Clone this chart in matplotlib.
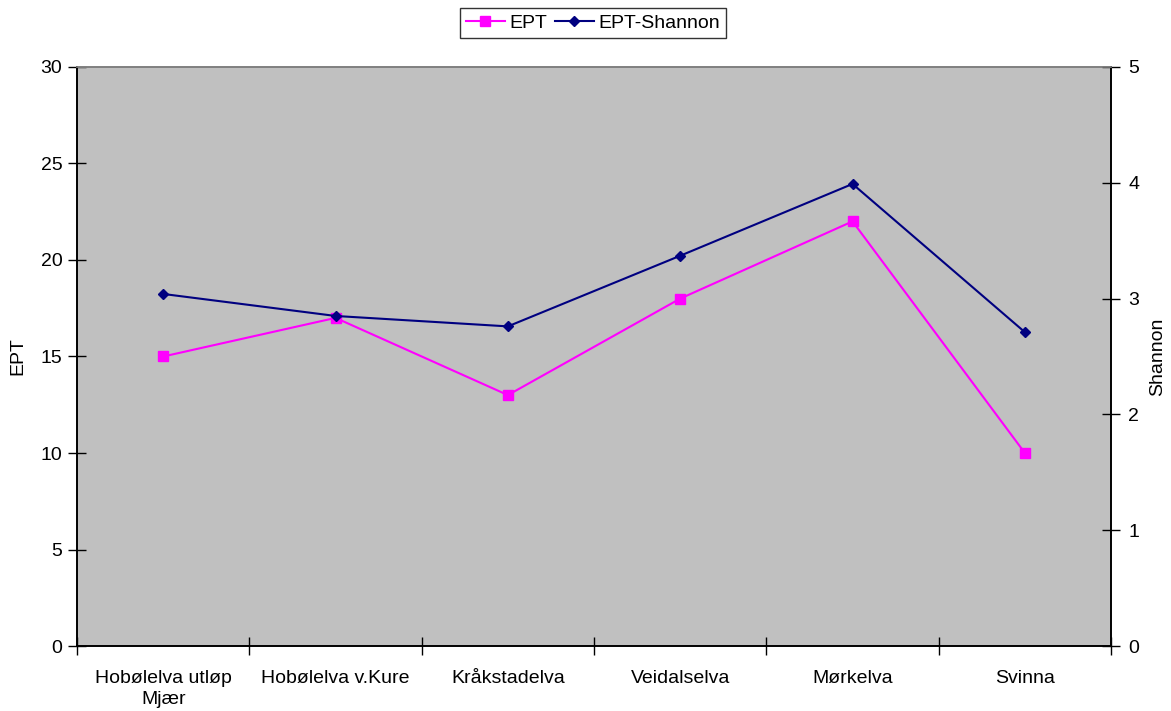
import matplotlib
matplotlib.use("Agg")
import matplotlib.pyplot as plt
import numpy as np

plt.rcParams['font.family'] = ['Liberation Sans', 'DejaVu Sans']

categories = ["Hobølelva utløp\nMjær", "Hobølelva v.Kure", "Kråkstadelva",
              "Veidalselva", "Mørkelva", "Svinna"]
ept = [15, 17, 13, 18, 22, 10]
shannon = [3.04, 2.85, 2.76, 3.37, 3.99, 2.71]

FS = 14

fig = plt.figure(figsize=(11.71, 7.11), dpi=100)
ax = fig.add_axes([0.0658, 0.0914, 0.883, 0.8144])
ax.set_facecolor('#C0C0C0')
ax2 = ax.twinx()

x = np.arange(len(categories))
l1, = ax.plot(x, ept, color='#FF00FF', lw=1.5, marker='s', markersize=7,
              markeredgecolor='#FF00FF', label='EPT')
l2, = ax2.plot(x, shannon, color='#000080', lw=1.5, marker='D', markersize=5.5,
               markeredgecolor='#000080', label='EPT-Shannon')

ax.set_xlim(-0.5, len(categories) - 0.5)
ax.set_ylim(0, 30)
ax2.set_ylim(0, 5)
ax.set_yticks(np.arange(0, 31, 5))
ax2.set_yticks(np.arange(0, 6, 1))

ax.set_xticks(np.arange(-0.5, len(categories), 1.0))
ax.set_xticklabels([])
ax.set_xticks(x, minor=True)
ax.set_xticklabels(categories, minor=True, fontsize=FS, linespacing=1.3)
ax.tick_params(axis='x', which='minor', length=0, pad=17)
ax.tick_params(axis='x', which='major', direction='inout', length=13, width=1, color='black')
ax.tick_params(axis='y', direction='inout', length=13, width=1, labelsize=FS, pad=4)
ax2.tick_params(axis='y', direction='inout', length=13, width=1, labelsize=FS, pad=6)

for a in (ax, ax2):
    a.spines['top'].set_color('#808080')
    a.spines['left'].set_color('black')
    a.spines['right'].set_color('black')
    a.spines['bottom'].set_color('black')
    for s in a.spines.values():
        s.set_linewidth(1.2)

ax.set_ylabel('EPT', fontsize=FS, labelpad=10)
ax2.set_ylabel('Shannon', fontsize=FS, rotation=90, labelpad=7)

leg = fig.legend([l1, l2], ['EPT', 'EPT-Shannon'], loc='center',
                 bbox_to_anchor=(593 / 1171, 1 - 23 / 711), ncol=2, fontsize=FS,
                 frameon=True, fancybox=False, edgecolor='black', handlelength=2.0,
                 handletextpad=0.25, columnspacing=0.4, borderpad=0.3, borderaxespad=0)
leg.get_frame().set_linewidth(1.0)

fig.savefig('out.png', dpi=100)
